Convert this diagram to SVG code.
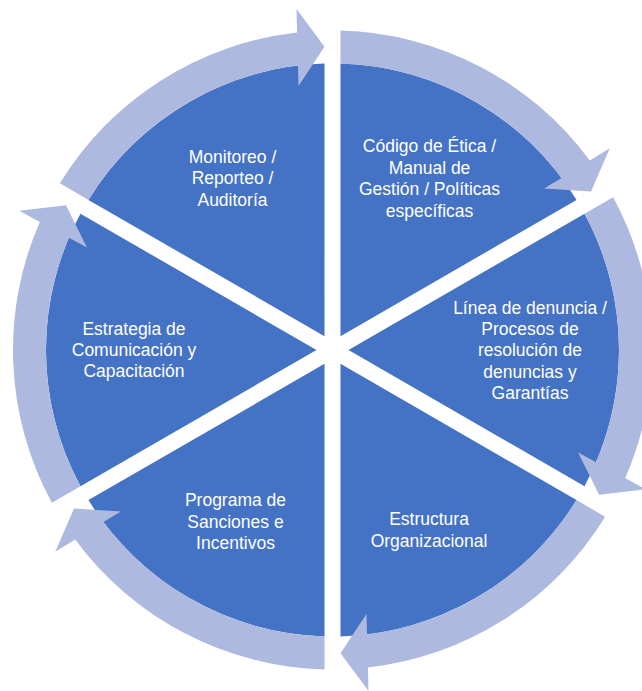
<svg xmlns="http://www.w3.org/2000/svg" xmlns:xlink="http://www.w3.org/1999/xlink" width="642" height="691" viewBox="0 0 642 691">
  <style>
    .wedge { fill: #4472C4; }
    .ring { fill: #AEB9DF; }
    .label { font-family: "Liberation Sans", Arial, sans-serif; font-size: 17.5px; fill: #FFFFFF; text-anchor: middle; }
  </style>
  <defs>
    <!-- one 60° sector (top-right position), 8px clear of both boundary radials; centre (332.5, 350) -->
    <path id="wedge" class="wedge" d="M 340.5 336.14 L 340.5 63.61 A 286.5 286.5 0 0 1 576.52 199.88 Z"/>
    <!-- one curved arrow of the outer ring, spanning the same sector -->
    <path id="arrow" class="ring" d="M 340.5 30.6 A 319.5 319.5 0 0 1 589.79 160.58 L 609.74 148.35 L 591.03 191.49 L 544.10 188.59 L 561.55 177.89 A 286.5 286.5 0 0 0 340.5 63.61 Z"/>
  </defs>

  <rect width="642" height="691" fill="#FFFFFF"/>

  <g id="codigo-etica">
    <use xlink:href="#wedge"/>
    <text class="label"><tspan x="429.5" y="152">Código de Ética /</tspan><tspan x="429.5" y="173.5">Manual de</tspan><tspan x="429.5" y="195">Gestión / Políticas</tspan><tspan x="429.5" y="216.5">específicas</tspan></text>
  </g>

  <g id="linea-denuncia">
    <use xlink:href="#wedge" transform="rotate(60 332.5 350)"/>
    <text class="label"><tspan x="530" y="314">Línea de denuncia /</tspan><tspan x="530" y="335.2">Procesos de</tspan><tspan x="530" y="356.4">resolución de</tspan><tspan x="530" y="377.6">denuncias y</tspan><tspan x="530" y="398.8">Garantías</tspan></text>
  </g>

  <g id="estructura">
    <use xlink:href="#wedge" transform="rotate(120 332.5 350)"/>
    <text class="label"><tspan x="429" y="525">Estructura</tspan><tspan x="429" y="546.5">Organizacional</tspan></text>
  </g>

  <g id="sanciones">
    <use xlink:href="#wedge" transform="rotate(180 332.5 350)"/>
    <text class="label"><tspan x="235.5" y="506">Programa de</tspan><tspan x="235.5" y="527.5">Sanciones e</tspan><tspan x="235.5" y="549">Incentivos</tspan></text>
  </g>

  <g id="comunicacion">
    <use xlink:href="#wedge" transform="rotate(240 332.5 350)"/>
    <text class="label"><tspan x="134" y="335">Estrategia de</tspan><tspan x="134" y="356">Comunicación y</tspan><tspan x="134" y="377">Capacitación</tspan></text>
  </g>

  <g id="monitoreo">
    <use xlink:href="#wedge" transform="rotate(300 332.5 350)"/>
    <text class="label"><tspan x="232.5" y="162.5">Monitoreo /</tspan><tspan x="232.5" y="184">Reporteo /</tspan><tspan x="232.5" y="205.5">Auditoría</tspan></text>
  </g>

  <!-- clockwise cycle arrows around the rim -->
  <g id="connectors">
    <use xlink:href="#arrow"/>
    <use xlink:href="#arrow" transform="rotate(60 332.5 350)"/>
    <use xlink:href="#arrow" transform="rotate(120 332.5 350)"/>
    <use xlink:href="#arrow" transform="rotate(180 332.5 350)"/>
    <use xlink:href="#arrow" transform="rotate(240 332.5 350)"/>
    <use xlink:href="#arrow" transform="rotate(300 332.5 350)"/>
  </g>
</svg>
